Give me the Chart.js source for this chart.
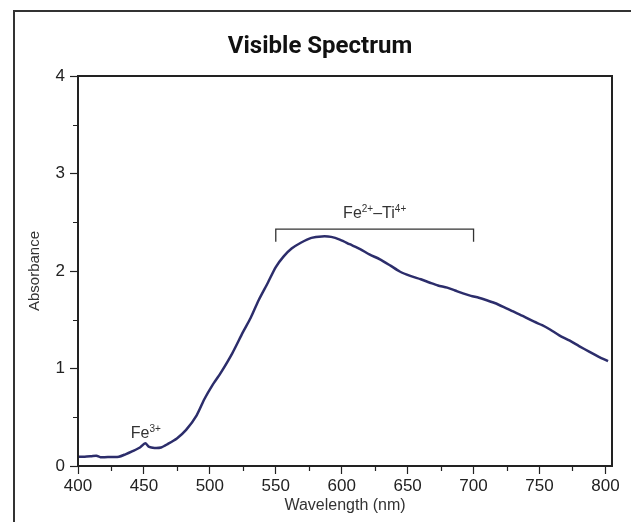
<!DOCTYPE html>
<html>
<head>
<meta charset="utf-8">
<script src="https://cdn.jsdelivr.net/npm/chart.js@4/dist/chart.umd.min.js"></script>
<style>
  html, body { margin: 0; padding: 0; background: #fff; }
  #wrap { position: relative; width: 631px; height: 522px; overflow: hidden; }
  #frame { position: absolute; left: 13px; top: 10px; width: 616px; height: 530px;
           border-left: 2px solid #333; border-top: 2px solid #333; border-right: 1px solid #bbb; }
  canvas { position: absolute; left: 0; top: 0; }
</style>
</head>
<body>
<div id="wrap">
  <div id="frame"></div>
  <canvas id="c" width="631" height="522"></canvas>
</div>
<script>
// ---- data ----
const wavelengths = [400,405,410,414,417,425,431,436,441,447,451,454,458,463,468,475,482,490,496,502,508,517,525,531,537,544,550,556,562,569,577,585,592,599,606,614,621,629,637,644,652,660,667,673,680,686,692,698,704,710,716,723,730,738,746,752,758,765,773,780,788,795,802];
const absorbance  = [0.095,0.095,0.10,0.105,0.09,0.093,0.095,0.12,0.15,0.19,0.233,0.195,0.185,0.19,0.225,0.283,0.37,0.52,0.69,0.83,0.95,1.156,1.37,1.52,1.70,1.88,2.04,2.15,2.23,2.29,2.34,2.355,2.35,2.32,2.275,2.225,2.17,2.12,2.055,1.995,1.95,1.915,1.88,1.852,1.83,1.80,1.77,1.745,1.725,1.70,1.672,1.63,1.585,1.535,1.48,1.445,1.40,1.34,1.285,1.23,1.17,1.12,1.075];

const xMajorTicks = [400,450,500,550,600,650,700,750,800];
const xMinorTicks = [425,475,525,575,625,675,725,775];
const yMajorTicks = [0,1,2,3,4];
const yMinorTicks = [0.5,1.5,2.5,3.5];

const chartTitle = 'Visible Spectrum';
const xTitle = 'Wavelength (nm)';
const yTitle = 'Absorbance';

// annotation: Fe3+ label, and Fe2+–Ti4+ bracket
const fe3Label = [{t:'Fe'},{t:'3+',sup:true}];
const fe3Anchor = [440, 0.29];
const feTiLabel = [{t:'Fe'},{t:'2+',sup:true},{t:'\u2013Ti'},{t:'4+',sup:true}];
const feTiAnchor = [625, 2.54];
const bracketRange = [550, 700];
const bracketLevels = [2.43, 2.30];

const FONT = "'Liberation Sans', Arial, sans-serif";
const TITLE_FONT = "Roboto, 'Liberation Sans', sans-serif";

function drawRich(ctx, parts, x, y, align) {
  const base = '16px ' + FONT, sup = '10px ' + FONT;
  let w = 0;
  parts.forEach(p => { ctx.font = p.sup ? sup : base; w += ctx.measureText(p.t).width; });
  let cx = align === 'center' ? x - w / 2 : x;
  ctx.textAlign = 'left';
  ctx.textBaseline = 'alphabetic';
  parts.forEach(p => {
    ctx.font = p.sup ? sup : base;
    ctx.fillText(p.t, cx, p.sup ? y - 6 : y);
    cx += ctx.measureText(p.t).width;
  });
}

const decor = {
  id: 'decor',
  afterDraw(chart) {
    const {ctx, chartArea: a, scales: {x, y}} = chart;
    ctx.save();
    // plot frame
    ctx.strokeStyle = '#222';
    ctx.lineWidth = 2;
    ctx.strokeRect(a.left, a.top, a.right - a.left, a.bottom - a.top);
    // minor ticks
    ctx.lineWidth = 1.2;
    ctx.beginPath();
    xMinorTicks.forEach(v => { const px = Math.round(x.getPixelForValue(v)) + 0.5; ctx.moveTo(px, a.bottom); ctx.lineTo(px, a.bottom + 5); });
    yMinorTicks.forEach(v => { const py = Math.round(y.getPixelForValue(v)) + 0.5; ctx.moveTo(a.left, py); ctx.lineTo(a.left - 5, py); });
    ctx.stroke();
    // title
    ctx.fillStyle = '#111';
    ctx.font = 'bold 24px ' + TITLE_FONT;
    ctx.textAlign = 'center';
    ctx.textBaseline = 'alphabetic';
    ctx.fillText(chartTitle, 320, 53);
    // annotations
    ctx.fillStyle = '#333';
    drawRich(ctx, fe3Label, x.getPixelForValue(fe3Anchor[0]), y.getPixelForValue(fe3Anchor[1]), 'left');
    drawRich(ctx, feTiLabel, x.getPixelForValue(feTiAnchor[0]), y.getPixelForValue(feTiAnchor[1]), 'center');
    const bx0 = x.getPixelForValue(bracketRange[0]), bx1 = x.getPixelForValue(bracketRange[1]);
    const by0 = y.getPixelForValue(bracketLevels[0]), by1 = y.getPixelForValue(bracketLevels[1]);
    ctx.strokeStyle = '#333';
    ctx.lineWidth = 1.3;
    ctx.beginPath();
    ctx.moveTo(bx0, by1); ctx.lineTo(bx0, by0); ctx.lineTo(bx1, by0); ctx.lineTo(bx1, by1);
    ctx.stroke();
    ctx.restore();
  }
};

new Chart(document.getElementById('c'), {
  type: 'line',
  data: {
    datasets: [{
      data: wavelengths.map((w, i) => ({x: w, y: absorbance[i]})),
      borderColor: '#2c2d6b',
      borderWidth: 2.5,
      pointRadius: 0,
      tension: 0.25,
      fill: false
    }]
  },
  options: {
    responsive: false,
    animation: false,
    devicePixelRatio: 1,
    layout: { padding: { left: 0, right: 19, top: 76, bottom: 0 } },
    plugins: { legend: { display: false }, tooltip: { enabled: false }, title: { display: false } },
    scales: {
      x: {
        type: 'linear', min: 400, max: 805,
        afterFit: s => { s.height = 56; },
        afterBuildTicks: s => { s.ticks = xMajorTicks.map(v => ({value: v})); },
        ticks: { font: { size: 17, family: FONT }, color: '#222', padding: 2, maxRotation: 0 },
        grid: { drawOnChartArea: false, drawTicks: true, tickLength: 8, tickColor: '#222', tickWidth: 1.2 },
        border: { display: false },
        title: { display: true, text: xTitle, font: { size: 16, family: FONT }, color: '#333', padding: { top: 0, bottom: 7 } }
      },
      y: {
        min: 0, max: 4,
        afterFit: s => { s.width = 78; },
        afterBuildTicks: s => { s.ticks = yMajorTicks.map(v => ({value: v})); },
        ticks: { font: { size: 17, family: FONT }, color: '#222', padding: 5 },
        grid: { drawOnChartArea: false, drawTicks: true, tickLength: 8, tickColor: '#222', tickWidth: 1.2 },
        border: { display: false },
        title: { display: true, text: yTitle, font: { size: 15, family: FONT }, color: '#333', padding: { top: 26, bottom: 0 } }
      }
    }
  },
  plugins: [decor]
});
</script>
</body>
</html>
